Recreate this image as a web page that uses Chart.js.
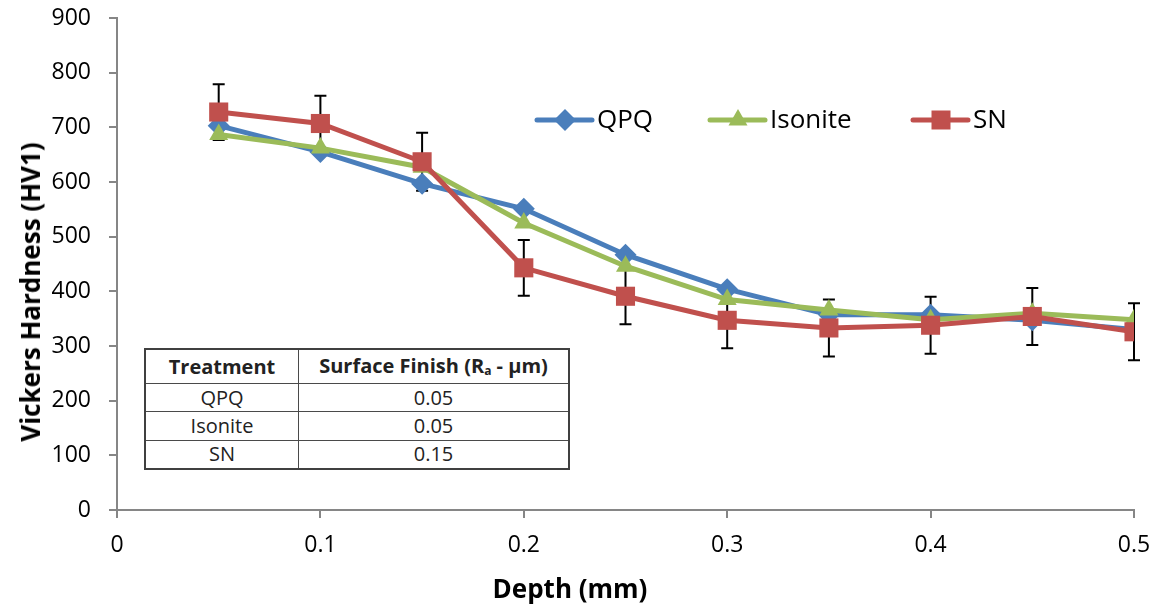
<!DOCTYPE html>
<html>
<head>
<meta charset="utf-8">
<script src="https://cdn.jsdelivr.net/npm/chart.js@4.4.1/dist/chart.umd.min.js"></script>
<style>
  body { margin: 0; background: #fff; }
  #wrap { position: relative; width: 1158px; height: 608px; font-family: 'Open Sans', sans-serif; }
  #chart { position: absolute; left: 0; top: 0; }
  .title { position: absolute; font-weight: bold; font-size: 26px; color: #000; white-space: nowrap; }
  #xTitle { left: 570px; top: 588px; transform: translate(-50%, -50%); }
  #yTitle { left: 30px; top: 292px; transform: translate(-50%, -50%) rotate(-90deg); }
  #finish { position: absolute; left: 144px; top: 348px; width: 426px; height: 122px;
            border-collapse: collapse; border: 2px solid #404040; font-size: 20px; color: #222; background: #fff; }
  #finish td, #finish th { border: 1px solid #4a4a4a; text-align: center; padding: 0; line-height: 1; }
  #finish th { font-weight: bold; height: 33px; }
  #finish sub { font-size: 12px; vertical-align: -2px; }
</style>
</head>
<body>
<div id="wrap">
  <canvas id="chart" width="1158" height="608"></canvas>
  <div class="title" id="xTitle">Depth (mm)</div>
  <div class="title" id="yTitle">Vickers Hardness (HV1)</div>
  <table id="finish"></table>
</div>
<script>
// data
const depth = [0.05, 0.1, 0.15, 0.2, 0.25, 0.3, 0.35, 0.4, 0.45, 0.5];
const qpq = [703, 655, 597, 551, 467, 404, 357, 357, 347, 330];
const isonite = [687, 662, 627, 525, 446, 385, 366, 348, 360, 348];
const sn = [728, 707, 637, 443, 391, 347, 333, 338, 354, 326];
const snErr = [51, 51, 53, 51, 51, 51, 52, 52, 52, 52];

const treatments = ['QPQ', 'Isonite', 'SN'];
const finishRa = ['0.05', '0.05', '0.15'];

const BLUE = '#4a7ebb', GREEN = '#9bbb59', RED = '#c0504d';

// table of surface finish
const table = document.getElementById('finish');
table.innerHTML = '<tr><th style="width:152px">Treatment</th><th>Surface Finish (R<sub>a</sub> - µm)</th></tr>' +
  treatments.map((t, i) => `<tr><td>${t}</td><td>${finishRa[i]}</td></tr>`).join('');

const toXY = vals => vals.map((v, i) => ({ x: depth[i], y: v }));

// SN error bars, drawn behind the series
const errorBars = {
  id: 'errorBars',
  beforeDatasetsDraw(chart) {
    const { ctx, scales: { x, y } } = chart;
    ctx.save();
    ctx.strokeStyle = '#000';
    ctx.lineWidth = 2;
    depth.forEach((d, i) => {
      const px = x.getPixelForValue(d);
      const top = y.getPixelForValue(sn[i] + snErr[i]);
      const bot = y.getPixelForValue(sn[i] - snErr[i]);
      ctx.beginPath();
      ctx.moveTo(px, top); ctx.lineTo(px, bot);
      ctx.moveTo(px - 6, top); ctx.lineTo(px + 6, top);
      ctx.moveTo(px - 6, bot); ctx.lineTo(px + 6, bot);
      ctx.stroke();
    });
    ctx.restore();
  }
};

function marker(ctx, style, cx, cy, color) {
  ctx.fillStyle = color;
  ctx.beginPath();
  if (style === 'rectRot') {
    ctx.moveTo(cx - 11, cy); ctx.lineTo(cx, cy - 11); ctx.lineTo(cx + 11, cy); ctx.lineTo(cx, cy + 11);
  } else if (style === 'triangle') {
    ctx.moveTo(cx, cy - 11); ctx.lineTo(cx + 9.5, cy + 5.5); ctx.lineTo(cx - 9.5, cy + 5.5);
  } else {
    ctx.rect(cx - 9.5, cy - 9.5, 19, 19);
  }
  ctx.closePath();
  ctx.fill();
}

// legend inside the plot area, line + marker + label
const legendInside = {
  id: 'legendInside',
  afterDraw(chart) {
    const { ctx, chartArea } = chart;
    const y0 = chartArea.top + 102;
    const entries = [
      { x: 537, label: 'QPQ', color: BLUE, style: 'rectRot' },
      { x: 710, label: 'Isonite', color: GREEN, style: 'triangle' },
      { x: 913, label: 'SN', color: RED, style: 'rect' }
    ];
    ctx.save();
    ctx.font = '26px "Open Sans"';
    ctx.textBaseline = 'middle';
    entries.forEach(e => {
      ctx.strokeStyle = e.color;
      ctx.lineWidth = 5;
      ctx.lineCap = 'round';
      ctx.beginPath();
      ctx.moveTo(e.x, y0); ctx.lineTo(e.x + 55, y0);
      ctx.stroke();
      marker(ctx, e.style, e.x + 28, y0, e.color);
      ctx.fillStyle = '#000';
      ctx.fillText(e.label, e.x + 60, y0 + 1);
    });
    ctx.restore();
  }
};

const axisLine = { display: true, color: '#868686', width: 2 };
const tickMarks = { display: true, drawOnChartArea: false, drawTicks: true, tickLength: 8, color: '#868686', lineWidth: 2 };
const tickFont = { family: 'Open Sans', size: 23 };

new Chart(document.getElementById('chart'), {
  type: 'line',
  data: {
    datasets: [
      { label: 'QPQ', data: toXY(qpq), borderColor: BLUE, backgroundColor: BLUE, borderWidth: 5,
        pointStyle: 'rectRot', pointRadius: 11, pointBorderWidth: 0, order: 3 },
      { label: 'Isonite', data: toXY(isonite), borderColor: GREEN, backgroundColor: GREEN, borderWidth: 5,
        pointStyle: 'triangle', pointRadius: 11, pointBorderWidth: 0, order: 2 },
      { label: 'SN', data: toXY(sn), borderColor: RED, backgroundColor: RED, borderWidth: 5,
        pointStyle: 'rect', pointRadius: 13.5, pointBorderWidth: 0, order: 1 }
    ]
  },
  options: {
    responsive: false,
    animation: false,
    layout: { padding: { left: 0, right: 24, top: 18, bottom: 0 } },
    plugins: { legend: { display: false }, tooltip: { enabled: false } },
    scales: {
      x: {
        type: 'linear', min: 0, max: 0.5,
        ticks: { stepSize: 0.1, font: tickFont, color: '#000', padding: 14,
                 callback: v => String(parseFloat(v.toFixed(2))) },
        grid: tickMarks, border: axisLine,
        afterFit: s => { s.height = 98; s.paddingLeft = 0; s.paddingRight = 0; }
      },
      y: {
        min: 0, max: 900,
        ticks: { stepSize: 100, font: tickFont, color: '#000', padding: 18 },
        grid: tickMarks, border: axisLine,
        afterFit: s => { s.width = 117; s.paddingTop = 10; s.paddingBottom = 10; }
      }
    }
  },
  plugins: [errorBars, legendInside]
});
</script>
</body>
</html>
